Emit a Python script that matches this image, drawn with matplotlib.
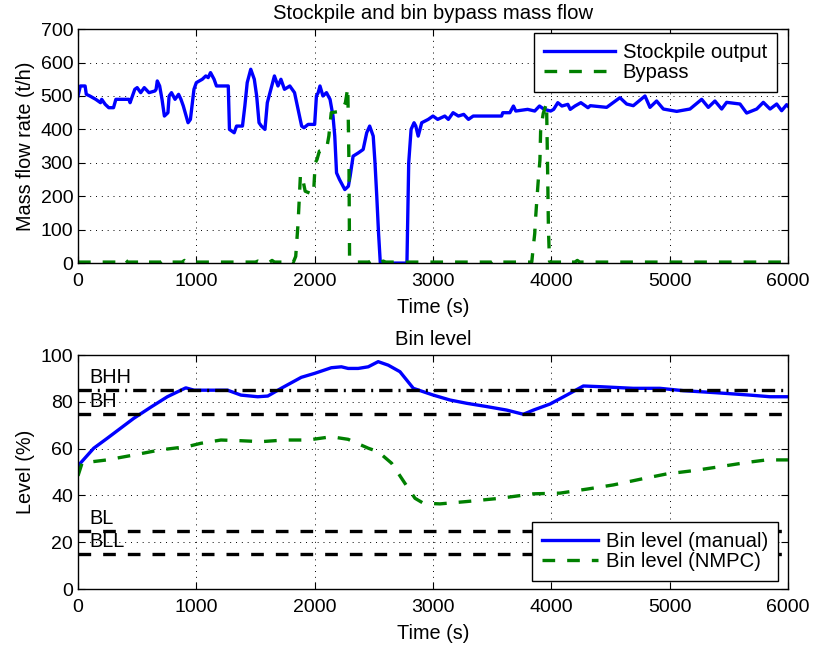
import numpy as np
import matplotlib
matplotlib.use("Agg")
import matplotlib.pyplot as plt

plt.rcParams['font.family'] = ['Liberation Sans', 'DejaVu Sans']
plt.rcParams['font.size'] = 14

# Stockpile output mass flow (t/h)
stock_t = [0, 20, 60, 70, 100, 150, 190, 200, 230, 260, 300, 320, 430, 440, 480, 500,
           530, 560, 600, 650, 660, 670, 690, 710, 730, 760, 770, 790, 820, 850, 870, 890,
           930, 950, 980, 1000, 1050, 1080, 1100, 1120, 1150, 1170, 1270, 1280, 1320, 1340,
           1390, 1410, 1430, 1460, 1490, 1510, 1530, 1550, 1580, 1600, 1630, 1660, 1690, 1715,
           1745, 1790, 1830, 1860, 1890, 1910, 1945, 2000, 2015, 2030, 2045, 2070, 2100, 2130,
           2155, 2170, 2185, 2210, 2255, 2285, 2300, 2325, 2370, 2410, 2440, 2465, 2495, 2510,
           2525, 2540, 2555, 2780, 2785, 2795, 2815, 2840, 2855, 2875, 2905, 2960, 3000, 3040,
           3100, 3130, 3170, 3215, 3260, 3300, 3340, 3410, 3580, 3590, 3650, 3680, 3700, 3800,
           3860, 3900, 3940, 3995, 4020, 4055, 4090, 4140, 4160, 4200, 4250, 4310, 4330, 4468,
           4580, 4637, 4693, 4792, 4834, 4890, 4947, 5060, 5172, 5271, 5327, 5383, 5440, 5482,
           5595, 5651, 5736, 5792, 5849, 5905, 5947, 5989, 6000]
stock_v = [500, 530, 530, 505, 500, 490, 480, 490, 475, 465, 465, 490, 490, 480, 520, 525,
           510, 525, 510, 515, 520, 545, 530, 490, 440, 450, 500, 510, 490, 505, 490, 470,
           420, 430, 520, 540, 550, 560, 555, 570, 550, 530, 530, 400, 390, 410,
           410, 470, 540, 580, 550, 500, 420, 410, 400, 480, 520, 560, 530, 550,
           520, 530, 510, 460, 410, 405, 415, 415, 500, 510, 530, 500, 510, 490,
           440, 380, 270, 250, 220, 230, 260, 320, 330, 340, 390, 410, 380, 300,
           200, 90, 0, 0, 100, 300, 400, 420, 410, 380, 420, 430, 440, 430,
           440, 430, 450, 440, 445, 430, 440, 440, 440, 450, 450, 470, 455, 460,
           455, 470, 460, 455, 460, 480, 470, 475, 460, 470, 480, 465, 471, 466,
           495, 476, 471, 500, 466, 485, 461, 454, 461, 490, 466, 485, 461, 481,
           476, 449, 461, 481, 461, 476, 456, 474, 470]

# Bin bypass mass flow (t/h)
bypass_t = [0, 380, 400, 420, 540, 560, 580, 700, 720, 740, 880, 900, 920,
            1500, 1520, 1540, 1620, 1640, 1660, 1780, 1800, 1820, 1840, 1860, 1880,
            1900, 1920, 1990, 2005, 2020, 2040, 2100, 2120, 2140, 2230, 2260, 2280,
            2290, 2295, 2310, 2330, 2460, 2480, 2500, 2560, 2580, 2600, 3500, 3520,
            3540, 3835, 3848, 3860, 3868, 3876, 3890, 3904, 3910, 3932, 3960, 3968,
            3976, 3985, 4000, 4100, 4120, 4140, 4200, 4220, 4240, 6000]
bypass_v = [3, 3, 10, 3, 3, 8, 3, 3, 8, 3, 3, 8, 3,
            3, 6, 3, 3, 8, 3, 3, 8, 3, 20, 120, 265,
            250, 215, 205, 300, 310, 335, 340, 380, 450, 455, 480, 525,
            300, 20, 10, 3, 3, 8, 3, 3, 6, 3, 3, 8,
            3, 3, 49, 88, 138, 179, 248, 308, 398, 448, 478, 300,
            100, 5, 3, 3, 8, 3, 3, 8, 3, 3]

# Bin level (%)
manual_t = [0, 20, 133, 246, 472, 614, 755, 911, 981, 1264, 1377, 1519, 1604, 1717,
            1887, 2000, 2141, 2226, 2283, 2368, 2453, 2537, 2622, 2721, 2834, 3003, 3144,
            3285, 3454, 3623, 3764, 3849, 3990, 4130, 4271, 4412, 4693, 4918, 5116, 5398,
            5680, 5849, 6000]
manual_v = [50, 53.8, 60.2, 64.4, 73, 77.7, 82.2, 86, 85, 85, 82.9, 82.2, 82.5, 85.8,
            90.5, 92.2, 94.6, 95, 94.3, 94.3, 95, 97.2, 95.7, 92.9, 85.8, 82.9, 80.8,
            79.4, 78, 76.5, 74.7, 76.5, 79.1, 82.9, 86.8, 86.5, 85.8, 85.8, 84.8, 83.9,
            82.9, 82.2, 82.2]
nmpc_t = [0, 34, 133, 246, 472, 698, 925, 1038, 1208, 1377, 1547, 1745, 1943, 2141,
          2283, 2453, 2537, 2650, 2763, 2848, 2918, 3059, 3285, 3566, 3849, 4074, 4299,
          4524, 4749, 4974, 5200, 5425, 5651, 5820, 6000]
nmpc_v = [48.4, 53.8, 54.5, 55.2, 57.3, 59.5, 60.9, 62.3, 63.7, 63.4, 63, 63.7, 63.7, 65.1,
          64, 60.2, 58.7, 53.8, 45.2, 38.8, 36.7, 36.4, 37.4, 38.8, 40.7, 41, 42.7,
          44.5, 46.9, 49.2, 50.6, 52.3, 54.1, 55.2, 55.2]

limit_names = ['BHH', 'BH', 'BL', 'BLL']
limit_levels = [85, 75, 25, 15]

blue = (0, 0, 1)
green = (0, 0.5, 0)
dashed = (0, (3.8, 3.6))
dashdot = (0, (4, 1.8, 0.6, 1.8))


def style_axes(ax):
    ax.tick_params(direction='in', top=True, right=True, length=5, width=0.8)
    ax.tick_params(axis='x', pad=7)
    for sp in ax.spines.values():
        sp.set_linewidth(1.0)
    ax.grid(True, color='k', linestyle=(0, (1, 5)), linewidth=0.7)


def add_legend(ax, anchor, loc, hlen):
    ax.legend(loc=loc, bbox_to_anchor=anchor, borderaxespad=0, fancybox=False,
              edgecolor='k', framealpha=1, fontsize=14.6, handlelength=hlen,
              handletextpad=0.35, borderpad=0.5, labelspacing=0.05)


fig = plt.figure(figsize=(8.16, 6.48), dpi=100)
ax1 = fig.add_axes([0.0956, 0.594, 0.870, 0.361])
ax2 = fig.add_axes([0.0956, 0.091, 0.870, 0.361])

ax1.plot(stock_t, stock_v, color=blue, lw=2.4, label='Stockpile output')
ax1.plot(bypass_t, bypass_v, color=green, lw=2.4, ls=dashed, label='Bypass')
ax1.set_xlim(0, 6000)
ax1.set_ylim(0, 700)
ax1.set_xticks(range(0, 6001, 1000))
ax1.set_yticks(range(0, 701, 100))
ax1.set_xlabel('Time (s)', fontsize=14.3, labelpad=6)
ax1.set_ylabel('Mass flow rate (t/h)', fontsize=14.3)
ax1.set_title('Stockpile and bin bypass mass flow', fontsize=14.6, pad=7)
style_axes(ax1)
add_legend(ax1, (1 - 11 / 710, 1 - 4 / 234), 'upper right', 3.5)

ax2.plot(manual_t, manual_v, color=blue, lw=2.4, label='Bin level (manual)')
ax2.plot(nmpc_t, nmpc_v, color=green, lw=2.4, ls=dashed, label='Bin level (NMPC)')
for name, lvl in zip(limit_names, limit_levels):
    ax2.axhline(lvl, color='k', lw=2.4, ls=dashdot if name == 'BHH' else dashed)
    ax2.text(95, lvl + 1.2, name, va='bottom', ha='left', fontsize=14.3)
ax2.set_xlim(0, 6000)
ax2.set_ylim(0, 100)
ax2.set_xticks(range(0, 6001, 1000))
ax2.set_yticks(range(0, 101, 20))
ax2.set_xlabel('Time (s)', fontsize=14.3, labelpad=6)
ax2.set_ylabel('Level (%)', fontsize=14.3)
ax2.set_title('Bin level', fontsize=14.6, pad=7)
style_axes(ax2)
add_legend(ax2, (1 - 10 / 710, 8 / 234), 'lower right', 2.8)

fig.savefig('out.png', dpi=100)
